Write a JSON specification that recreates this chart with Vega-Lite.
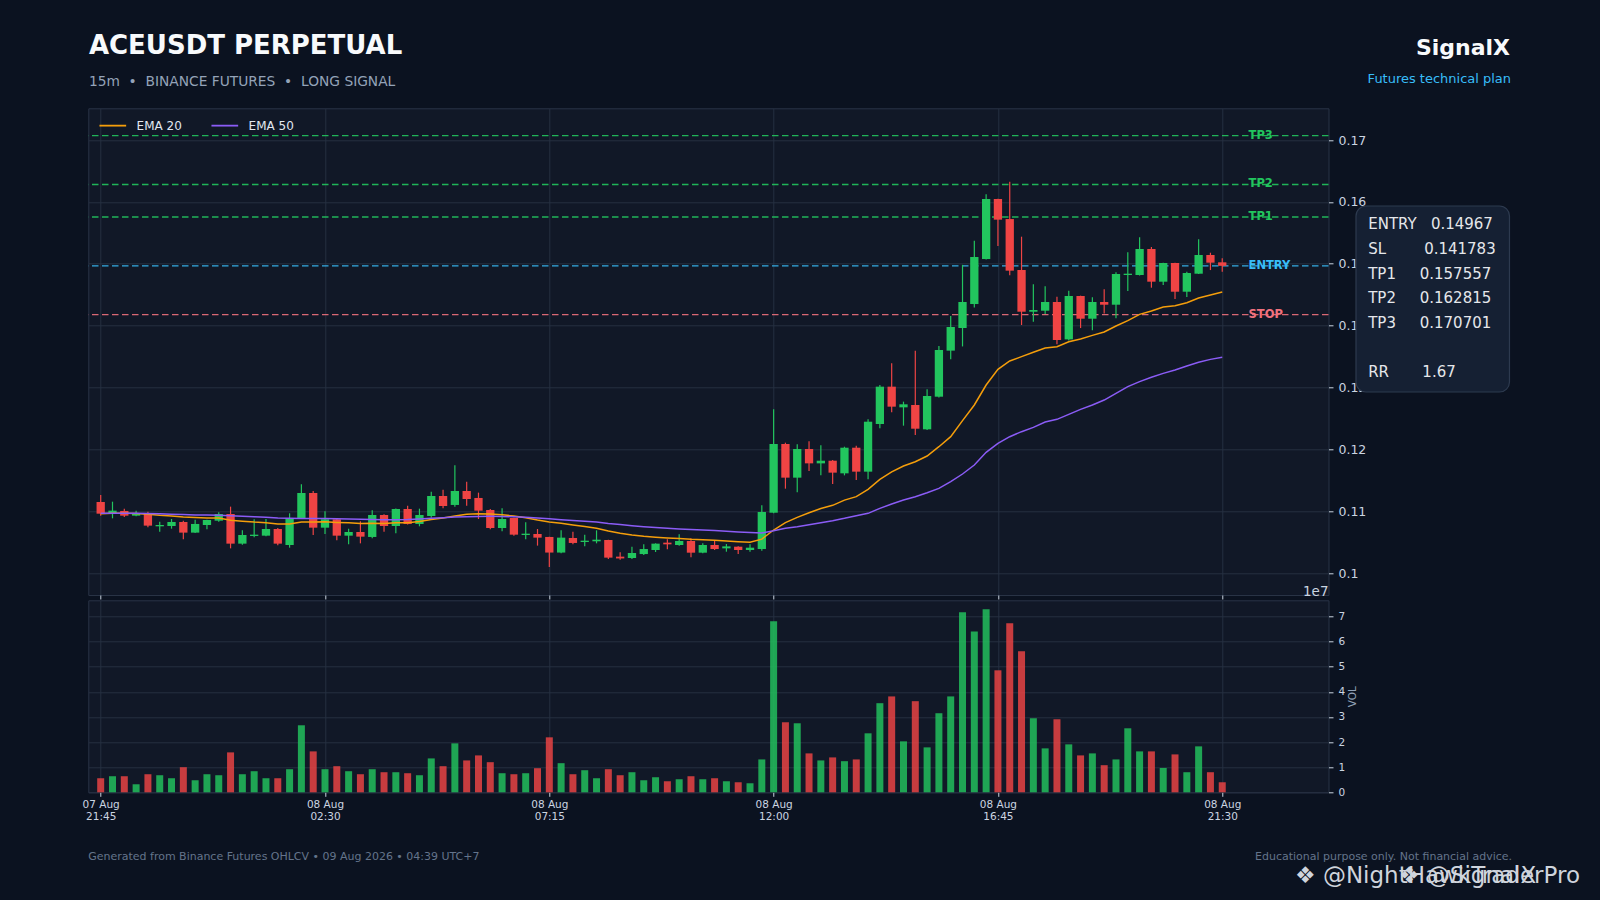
{
 "$schema": "https://vega.github.io/schema/vega-lite/v6.json",
 "autosize": {"type": "none"},
 "padding": {"left": 88.3, "top": 108.3, "right": 1511.7, "bottom": 791.7},
 "background": "#0b1220",
 "bounds": "flush",
 "spacing": 5,
 "resolve": {"scale": {"color": "independent"}, "legend": {"color": "independent"}},
 "config": {
  "font": "DejaVu Sans",
  "view": {"fill": "#111827", "stroke": "#2a3446", "strokeWidth": 1},
  "scale": {"continuousPadding": 0},
  "axis": {"domain": false, "grid": true, "gridColor": "#253041", "gridWidth": 1, "tickColor": "#cbd5e1", "tickSize": 4, "tickWidth": 1, "labelColor": "#cbd5e1", "labelFont": "DejaVu Sans", "labelFontSize": 10.5, "titleFont": "DejaVu Sans", "labelOverlap": false}
 },
 "datasets": {
  "levels": [
   {"name": "TP3", "price": 0.170701},
   {"name": "TP2", "price": 0.162815},
   {"name": "TP1", "price": 0.157557},
   {"name": "ENTRY", "price": 0.14967},
   {"name": "STOP", "price": 0.141783}
  ],
  "candles": [
   {"t":"2026-08-07T21:45:00Z","o":0.11152,"h":0.11265,"l":0.10931,"c":0.10963,"v":5600000,"e20":0.10963,"e50":0.10970},
   {"t":"2026-08-07T22:00:00Z","o":0.10969,"h":0.11157,"l":0.10888,"c":0.11012,"v":6400000,"e20":0.10969,"e50":0.10972},
   {"t":"2026-08-07T22:15:00Z","o":0.11007,"h":0.11044,"l":0.10910,"c":0.10931,"v":6400000,"e20":0.10969,"e50":0.10972},
   {"t":"2026-08-07T22:30:00Z","o":0.10931,"h":0.11012,"l":0.10920,"c":0.10964,"v":3200000,"e20":0.10965,"e50":0.10971},
   {"t":"2026-08-07T22:45:00Z","o":0.10969,"h":0.10996,"l":0.10743,"c":0.10770,"v":7200000,"e20":0.10955,"e50":0.10966},
   {"t":"2026-08-07T23:00:00Z","o":0.10759,"h":0.10834,"l":0.10673,"c":0.10780,"v":6800000,"e20":0.10938,"e50":0.10961},
   {"t":"2026-08-07T23:15:00Z","o":0.10764,"h":0.10877,"l":0.10721,"c":0.10829,"v":5600000,"e20":0.10927,"e50":0.10955},
   {"t":"2026-08-07T23:30:00Z","o":0.10829,"h":0.10850,"l":0.10549,"c":0.10657,"v":10000000,"e20":0.10910,"e50":0.10948},
   {"t":"2026-08-07T23:45:00Z","o":0.10657,"h":0.10867,"l":0.10650,"c":0.10797,"v":4800000,"e20":0.10900,"e50":0.10943},
   {"t":"2026-08-08T00:00:00Z","o":0.10780,"h":0.10866,"l":0.10710,"c":0.10861,"v":7200000,"e20":0.10893,"e50":0.10940},
   {"t":"2026-08-08T00:15:00Z","o":0.10850,"h":0.10985,"l":0.10834,"c":0.10958,"v":6800000,"e20":0.10895,"e50":0.10938},
   {"t":"2026-08-08T00:30:00Z","o":0.10958,"h":0.11077,"l":0.10403,"c":0.10479,"v":15900000,"e20":0.10858,"e50":0.10928},
   {"t":"2026-08-08T00:45:00Z","o":0.10479,"h":0.10694,"l":0.10463,"c":0.10619,"v":7200000,"e20":0.10842,"e50":0.10920},
   {"t":"2026-08-08T01:00:00Z","o":0.10603,"h":0.10872,"l":0.10581,"c":0.10624,"v":8400000,"e20":0.10827,"e50":0.10912},
   {"t":"2026-08-08T01:15:00Z","o":0.10608,"h":0.10877,"l":0.10597,"c":0.10716,"v":5600000,"e20":0.10817,"e50":0.10905},
   {"t":"2026-08-08T01:30:00Z","o":0.10716,"h":0.10732,"l":0.10452,"c":0.10479,"v":5600000,"e20":0.10795,"e50":0.10895},
   {"t":"2026-08-08T01:45:00Z","o":0.10457,"h":0.10969,"l":0.10414,"c":0.10888,"v":9200000,"e20":0.10797,"e50":0.10891},
   {"t":"2026-08-08T02:00:00Z","o":0.10883,"h":0.11437,"l":0.10883,"c":0.11297,"v":26700000,"e20":0.10829,"e50":0.10886},
   {"t":"2026-08-08T02:15:00Z","o":0.11297,"h":0.11330,"l":0.10619,"c":0.10737,"v":16300000,"e20":0.10830,"e50":0.10884},
   {"t":"2026-08-08T02:30:00Z","o":0.10737,"h":0.11001,"l":0.10635,"c":0.10872,"v":9200000,"e20":0.10832,"e50":0.10886},
   {"t":"2026-08-08T02:45:00Z","o":0.10872,"h":0.10888,"l":0.10533,"c":0.10608,"v":10400000,"e20":0.10822,"e50":0.10882},
   {"t":"2026-08-08T03:00:00Z","o":0.10608,"h":0.10721,"l":0.10468,"c":0.10667,"v":8400000,"e20":0.10816,"e50":0.10877},
   {"t":"2026-08-08T03:15:00Z","o":0.10667,"h":0.10840,"l":0.10484,"c":0.10592,"v":7200000,"e20":0.10806,"e50":0.10872},
   {"t":"2026-08-08T03:30:00Z","o":0.10587,"h":0.11017,"l":0.10565,"c":0.10942,"v":9200000,"e20":0.10808,"e50":0.10868},
   {"t":"2026-08-08T03:45:00Z","o":0.10942,"h":0.10953,"l":0.10673,"c":0.10764,"v":8000000,"e20":0.10803,"e50":0.10866},
   {"t":"2026-08-08T04:00:00Z","o":0.10764,"h":0.11045,"l":0.10646,"c":0.11039,"v":8000000,"e20":0.10818,"e50":0.10867},
   {"t":"2026-08-08T04:15:00Z","o":0.11039,"h":0.11093,"l":0.10790,"c":0.10797,"v":7600000,"e20":0.10818,"e50":0.10868},
   {"t":"2026-08-08T04:30:00Z","o":0.10797,"h":0.11044,"l":0.10759,"c":0.10942,"v":6800000,"e20":0.10838,"e50":0.10876},
   {"t":"2026-08-08T04:45:00Z","o":0.10926,"h":0.11319,"l":0.10899,"c":0.11249,"v":13500000,"e20":0.10870,"e50":0.10888},
   {"t":"2026-08-08T05:00:00Z","o":0.11249,"h":0.11351,"l":0.11050,"c":0.11087,"v":10400000,"e20":0.10892,"e50":0.10898},
   {"t":"2026-08-08T05:15:00Z","o":0.11104,"h":0.11744,"l":0.11077,"c":0.11330,"v":19500000,"e20":0.10926,"e50":0.10908},
   {"t":"2026-08-08T05:30:00Z","o":0.11330,"h":0.11480,"l":0.11093,"c":0.11200,"v":12700000,"e20":0.10952,"e50":0.10915},
   {"t":"2026-08-08T05:45:00Z","o":0.11217,"h":0.11303,"l":0.10877,"c":0.11012,"v":14700000,"e20":0.10962,"e50":0.10919},
   {"t":"2026-08-08T06:00:00Z","o":0.11023,"h":0.11039,"l":0.10710,"c":0.10732,"v":12000000,"e20":0.10956,"e50":0.10920},
   {"t":"2026-08-08T06:15:00Z","o":0.10732,"h":0.11050,"l":0.10678,"c":0.10877,"v":7600000,"e20":0.10946,"e50":0.10918},
   {"t":"2026-08-08T06:30:00Z","o":0.10893,"h":0.10899,"l":0.10608,"c":0.10624,"v":7200000,"e20":0.10925,"e50":0.10914},
   {"t":"2026-08-08T06:45:00Z","o":0.10619,"h":0.10823,"l":0.10549,"c":0.10640,"v":7600000,"e20":0.10898,"e50":0.10905},
   {"t":"2026-08-08T07:00:00Z","o":0.10635,"h":0.10716,"l":0.10447,"c":0.10576,"v":9600000,"e20":0.10860,"e50":0.10893},
   {"t":"2026-08-08T07:15:00Z","o":0.10587,"h":0.10592,"l":0.10100,"c":0.10335,"v":21900000,"e20":0.10829,"e50":0.10880},
   {"t":"2026-08-08T07:30:00Z","o":0.10335,"h":0.10694,"l":0.10323,"c":0.10576,"v":11600000,"e20":0.10807,"e50":0.10867},
   {"t":"2026-08-08T07:45:00Z","o":0.10570,"h":0.10673,"l":0.10468,"c":0.10490,"v":7200000,"e20":0.10780,"e50":0.10852},
   {"t":"2026-08-08T08:00:00Z","o":0.10506,"h":0.10624,"l":0.10436,"c":0.10527,"v":8800000,"e20":0.10755,"e50":0.10840},
   {"t":"2026-08-08T08:15:00Z","o":0.10517,"h":0.10694,"l":0.10484,"c":0.10543,"v":5600000,"e20":0.10728,"e50":0.10828},
   {"t":"2026-08-08T08:30:00Z","o":0.10538,"h":0.10543,"l":0.10231,"c":0.10253,"v":9200000,"e20":0.10685,"e50":0.10805},
   {"t":"2026-08-08T08:45:00Z","o":0.10269,"h":0.10339,"l":0.10220,"c":0.10240,"v":6800000,"e20":0.10648,"e50":0.10787},
   {"t":"2026-08-08T09:00:00Z","o":0.10247,"h":0.10430,"l":0.10231,"c":0.10328,"v":8000000,"e20":0.10620,"e50":0.10770},
   {"t":"2026-08-08T09:15:00Z","o":0.10311,"h":0.10468,"l":0.10296,"c":0.10392,"v":4800000,"e20":0.10598,"e50":0.10752},
   {"t":"2026-08-08T09:30:00Z","o":0.10376,"h":0.10484,"l":0.10344,"c":0.10479,"v":6000000,"e20":0.10583,"e50":0.10738},
   {"t":"2026-08-08T09:45:00Z","o":0.10495,"h":0.10549,"l":0.10387,"c":0.10468,"v":4400000,"e20":0.10572,"e50":0.10727},
   {"t":"2026-08-08T10:00:00Z","o":0.10457,"h":0.10629,"l":0.10446,"c":0.10522,"v":5200000,"e20":0.10562,"e50":0.10715},
   {"t":"2026-08-08T10:15:00Z","o":0.10522,"h":0.10565,"l":0.10258,"c":0.10333,"v":6400000,"e20":0.10549,"e50":0.10706},
   {"t":"2026-08-08T10:30:00Z","o":0.10333,"h":0.10484,"l":0.10322,"c":0.10457,"v":5200000,"e20":0.10542,"e50":0.10698},
   {"t":"2026-08-08T10:45:00Z","o":0.10457,"h":0.10538,"l":0.10376,"c":0.10392,"v":5600000,"e20":0.10532,"e50":0.10690},
   {"t":"2026-08-08T11:00:00Z","o":0.10403,"h":0.10473,"l":0.10349,"c":0.10435,"v":4400000,"e20":0.10522,"e50":0.10680},
   {"t":"2026-08-08T11:15:00Z","o":0.10430,"h":0.10435,"l":0.10311,"c":0.10376,"v":4000000,"e20":0.10511,"e50":0.10668},
   {"t":"2026-08-08T11:30:00Z","o":0.10376,"h":0.10468,"l":0.10349,"c":0.10414,"v":3600000,"e20":0.10500,"e50":0.10658},
   {"t":"2026-08-08T11:45:00Z","o":0.10392,"h":0.11098,"l":0.10365,"c":0.10990,"v":13100000,"e20":0.10552,"e50":0.10652},
   {"t":"2026-08-08T12:00:00Z","o":0.10979,"h":0.12649,"l":0.10970,"c":0.12089,"v":68100000,"e20":0.10699,"e50":0.10686},
   {"t":"2026-08-08T12:15:00Z","o":0.12089,"h":0.12110,"l":0.11367,"c":0.11545,"v":27900000,"e20":0.10818,"e50":0.10726},
   {"t":"2026-08-08T12:30:00Z","o":0.11545,"h":0.12083,"l":0.11308,"c":0.12008,"v":27500000,"e20":0.10904,"e50":0.10753},
   {"t":"2026-08-08T12:45:00Z","o":0.12008,"h":0.12132,"l":0.11653,"c":0.11776,"v":15500000,"e20":0.10979,"e50":0.10786},
   {"t":"2026-08-08T13:00:00Z","o":0.11776,"h":0.12067,"l":0.11582,"c":0.11819,"v":12700000,"e20":0.11047,"e50":0.10818},
   {"t":"2026-08-08T13:15:00Z","o":0.11819,"h":0.11830,"l":0.11442,"c":0.11626,"v":13900000,"e20":0.11098,"e50":0.10850},
   {"t":"2026-08-08T13:30:00Z","o":0.11615,"h":0.12045,"l":0.11582,"c":0.12029,"v":12400000,"e20":0.11182,"e50":0.10888},
   {"t":"2026-08-08T13:45:00Z","o":0.12029,"h":0.12062,"l":0.11507,"c":0.11642,"v":13100000,"e20":0.11238,"e50":0.10931},
   {"t":"2026-08-08T14:00:00Z","o":0.11642,"h":0.12487,"l":0.11518,"c":0.12449,"v":23500000,"e20":0.11356,"e50":0.10969},
   {"t":"2026-08-08T14:15:00Z","o":0.12412,"h":0.13042,"l":0.12342,"c":0.13015,"v":35500000,"e20":0.11518,"e50":0.11049},
   {"t":"2026-08-08T14:30:00Z","o":0.13015,"h":0.13392,"l":0.12600,"c":0.12692,"v":38200000,"e20":0.11640,"e50":0.11119},
   {"t":"2026-08-08T14:45:00Z","o":0.12681,"h":0.12773,"l":0.12385,"c":0.12730,"v":20300000,"e20":0.11733,"e50":0.11184},
   {"t":"2026-08-08T15:00:00Z","o":0.12719,"h":0.13597,"l":0.12234,"c":0.12336,"v":36300000,"e20":0.11803,"e50":0.11238},
   {"t":"2026-08-08T15:15:00Z","o":0.12326,"h":0.12972,"l":0.12315,"c":0.12864,"v":17900000,"e20":0.11895,"e50":0.11302},
   {"t":"2026-08-08T15:30:00Z","o":0.12853,"h":0.13672,"l":0.12840,"c":0.13607,"v":31500000,"e20":0.12045,"e50":0.11372},
   {"t":"2026-08-08T15:45:00Z","o":0.13597,"h":0.14157,"l":0.13456,"c":0.13979,"v":38200000,"e20":0.12207,"e50":0.11480},
   {"t":"2026-08-08T16:00:00Z","o":0.13963,"h":0.14983,"l":0.13665,"c":0.14383,"v":71700000,"e20":0.12466,"e50":0.11604},
   {"t":"2026-08-08T16:15:00Z","o":0.14350,"h":0.15374,"l":0.14296,"c":0.15110,"v":64100000,"e20":0.12719,"e50":0.11749},
   {"t":"2026-08-08T16:30:00Z","o":0.15077,"h":0.16122,"l":0.15070,"c":0.16047,"v":72900000,"e20":0.13042,"e50":0.11954},
   {"t":"2026-08-08T16:45:00Z","o":0.16047,"h":0.16050,"l":0.15287,"c":0.15713,"v":48600000,"e20":0.13295,"e50":0.12099},
   {"t":"2026-08-08T17:00:00Z","o":0.15723,"h":0.16327,"l":0.14813,"c":0.14889,"v":67300000,"e20":0.13430,"e50":0.12207},
   {"t":"2026-08-08T17:15:00Z","o":0.14900,"h":0.15438,"l":0.14011,"c":0.14226,"v":56200000,"e20":0.13500,"e50":0.12288},
   {"t":"2026-08-08T17:30:00Z","o":0.14226,"h":0.14668,"l":0.14065,"c":0.14253,"v":29500000,"e20":0.13570,"e50":0.12358},
   {"t":"2026-08-08T17:45:00Z","o":0.14242,"h":0.14636,"l":0.14189,"c":0.14383,"v":17500000,"e20":0.13640,"e50":0.12444},
   {"t":"2026-08-08T18:00:00Z","o":0.14383,"h":0.14469,"l":0.13699,"c":0.13769,"v":29100000,"e20":0.13661,"e50":0.12487},
   {"t":"2026-08-08T18:15:00Z","o":0.13779,"h":0.14566,"l":0.13760,"c":0.14480,"v":19100000,"e20":0.13740,"e50":0.12568},
   {"t":"2026-08-08T18:30:00Z","o":0.14480,"h":0.14485,"l":0.13962,"c":0.14113,"v":14700000,"e20":0.13785,"e50":0.12649},
   {"t":"2026-08-08T18:45:00Z","o":0.14113,"h":0.14458,"l":0.13925,"c":0.14383,"v":15500000,"e20":0.13844,"e50":0.12719},
   {"t":"2026-08-08T19:00:00Z","o":0.14383,"h":0.14587,"l":0.14199,"c":0.14339,"v":10800000,"e20":0.13898,"e50":0.12799},
   {"t":"2026-08-08T19:15:00Z","o":0.14339,"h":0.14862,"l":0.14119,"c":0.14835,"v":13100000,"e20":0.13995,"e50":0.12907},
   {"t":"2026-08-08T19:30:00Z","o":0.14819,"h":0.15185,"l":0.14560,"c":0.14840,"v":25500000,"e20":0.14081,"e50":0.13015},
   {"t":"2026-08-08T19:45:00Z","o":0.14819,"h":0.15427,"l":0.14810,"c":0.15239,"v":16300000,"e20":0.14183,"e50":0.13096},
   {"t":"2026-08-08T20:00:00Z","o":0.15239,"h":0.15271,"l":0.14614,"c":0.14711,"v":16300000,"e20":0.14237,"e50":0.13166},
   {"t":"2026-08-08T20:15:00Z","o":0.14711,"h":0.15018,"l":0.14657,"c":0.15013,"v":9700000,"e20":0.14302,"e50":0.13230},
   {"t":"2026-08-08T20:30:00Z","o":0.15013,"h":0.15018,"l":0.14431,"c":0.14549,"v":15100000,"e20":0.14323,"e50":0.13284},
   {"t":"2026-08-08T20:45:00Z","o":0.14549,"h":0.14873,"l":0.14463,"c":0.14851,"v":8000000,"e20":0.14372,"e50":0.13349},
   {"t":"2026-08-08T21:00:00Z","o":0.14840,"h":0.15395,"l":0.14835,"c":0.15142,"v":18300000,"e20":0.14447,"e50":0.13408},
   {"t":"2026-08-08T21:15:00Z","o":0.15142,"h":0.15179,"l":0.14899,"c":0.15018,"v":8000000,"e20":0.14496,"e50":0.13456},
   {"t":"2026-08-08T21:30:00Z","o":0.15024,"h":0.15089,"l":0.14872,"c":0.14967,"v":4000000,"e20":0.14545,"e50":0.13490}
  ]
 },
 "vconcat": [
  {
   "width": 1240.2,
   "height": 486.7,
   "layer": [
    {
     "data": {"name": "levels"},
     "mark": {"type": "rule", "strokeDash": [6.5, 3.5], "strokeWidth": 1.3, "opacity": 0.9},
     "encoding": {
      "y": {"field": "price", "type": "quantitative", "title": null, "scale": {"domain": [0.096494, 0.175121], "nice": false, "zero": false}},
      "color": {"condition": [{"test": "datum.name === 'ENTRY'", "value": "#38bdf8"}, {"test": "datum.name === 'STOP'", "value": "#f0717d"}], "value": "#22c55e"}
     }
    },
    {
     "data": {"name": "candles"},
     "mark": {"type": "rule", "strokeWidth": 1.2},
     "encoding": {
      "x": {"field": "t", "type": "temporal", "title": null,
        "scale": {"type": "utc", "nice": false, "padding": 0, "domain": [{"year": 2026, "month": 8, "date": 7, "hours": 21, "minutes": 29, "seconds": 15, "utc": true}, {"year": 2026, "month": 8, "date": 8, "hours": 23, "minutes": 45, "utc": true}]},
        "axis": {"values": [
          {"year": 2026, "month": 8, "date": 7, "hours": 21, "minutes": 45, "utc": true},
          {"year": 2026, "month": 8, "date": 8, "hours": 2, "minutes": 30, "utc": true},
          {"year": 2026, "month": 8, "date": 8, "hours": 7, "minutes": 15, "utc": true},
          {"year": 2026, "month": 8, "date": 8, "hours": 12, "minutes": 0, "utc": true},
          {"year": 2026, "month": 8, "date": 8, "hours": 16, "minutes": 45, "utc": true},
          {"year": 2026, "month": 8, "date": 8, "hours": 21, "minutes": 30, "utc": true}], "tickCount": 20, "labels": false, "ticks": true, "grid": true}},
      "y": {"field": "l", "type": "quantitative", "title": null,
        "scale": {"domain": [0.096494, 0.175121], "nice": false, "zero": false},
        "axis": {"orient": "right", "values": [0.1, 0.11, 0.12, 0.13, 0.14, 0.15, 0.16, 0.17], "tickCount": 20, "format": ".2~f", "labelFontSize": 12.5, "labelPadding": 5, "tickSize": 4.5, "grid": true, "labelOverlap": false}},
      "y2": {"field": "h"},
      "color": {"condition": {"test": "datum.c >= datum.o", "value": "#22c55e"}, "value": "#ef4444"}
     }
    },
    {
     "data": {"name": "candles"},
     "mark": {"type": "bar", "size": 8.3},
     "encoding": {
      "x": {"field": "t", "type": "temporal", "title": null, "scale": {"type": "utc", "nice": false, "padding": 0, "domain": [{"year": 2026, "month": 8, "date": 7, "hours": 21, "minutes": 29, "seconds": 15, "utc": true}, {"year": 2026, "month": 8, "date": 8, "hours": 23, "minutes": 45, "utc": true}]}},
      "y": {"field": "o", "type": "quantitative", "title": null, "scale": {"domain": [0.096494, 0.175121], "nice": false, "zero": false}},
      "y2": {"field": "c"},
      "color": {"condition": {"test": "datum.c >= datum.o", "value": "#22c55e"}, "value": "#ef4444"}
     }
    },
    {
     "data": {"name": "candles"},
     "mark": {"type": "line", "strokeWidth": 1.5},
     "encoding": {
      "x": {"field": "t", "type": "temporal", "title": null, "scale": {"type": "utc", "nice": false, "padding": 0, "domain": [{"year": 2026, "month": 8, "date": 7, "hours": 21, "minutes": 29, "seconds": 15, "utc": true}, {"year": 2026, "month": 8, "date": 8, "hours": 23, "minutes": 45, "utc": true}]}},
      "y": {"field": "e20", "type": "quantitative", "title": null, "scale": {"domain": [0.096494, 0.175121], "nice": false, "zero": false}},
      "color": {"datum": "EMA 20", "scale": {"domain": ["EMA 20", "EMA 50"], "range": ["#f59e0b", "#8b5cf6"]},
        "legend": {"orient": "none", "legendX": 10, "legendY": 2.6, "direction": "horizontal", "title": null, "symbolType": "stroke", "symbolSize": 713, "symbolStrokeWidth": 1.8, "labelFontSize": 12, "labelColor": "#e2e8f0", "labelFont": "DejaVu Sans", "labelOffset": 9.3, "columnPadding": 25, "padding": 0}}
     }
    },
    {
     "data": {"name": "candles"},
     "mark": {"type": "line", "strokeWidth": 1.5},
     "encoding": {
      "x": {"field": "t", "type": "temporal", "title": null, "scale": {"type": "utc", "nice": false, "padding": 0, "domain": [{"year": 2026, "month": 8, "date": 7, "hours": 21, "minutes": 29, "seconds": 15, "utc": true}, {"year": 2026, "month": 8, "date": 8, "hours": 23, "minutes": 45, "utc": true}]}},
      "y": {"field": "e50", "type": "quantitative", "title": null, "scale": {"domain": [0.096494, 0.175121], "nice": false, "zero": false}},
      "color": {"datum": "EMA 50"}
     }
    },
    {
     "data": {"name": "levels"},
     "mark": {"type": "text", "align": "left", "baseline": "middle", "fontSize": 11.5, "fontWeight": "bold", "clip": false},
     "encoding": {
      "x": {"datum": {"year": 2026, "month": 8, "date": 8, "hours": 22, "minutes": 3, "seconds": 27, "utc": true}, "type": "temporal"},
      "y": {"field": "price", "type": "quantitative", "title": null},
      "text": {"field": "name"},
      "color": {"condition": [{"test": "datum.name === 'ENTRY'", "value": "#38bdf8"}, {"test": "datum.name === 'STOP'", "value": "#f0717d"}], "value": "#22c55e"}
     }
    },
    {
     "data": {"values": [{}]},
     "mark": {"type": "text", "text": "ACEUSDT PERPETUAL", "align": "left", "baseline": "alphabetic", "fontSize": 26, "fontWeight": "bold", "color": "#f8fafc", "clip": false},
     "encoding": {
      "x": {"datum": {"year": 2026, "month": 8, "date": 7, "hours": 21, "minutes": 30, "utc": true}, "type": "temporal"},
      "y": {"datum": 0.18389, "type": "quantitative"}
     }
    },
    {
     "data": {"values": [{}]},
     "mark": {"type": "text", "text": "15m\u00a0\u00a0•\u00a0\u00a0BINANCE FUTURES\u00a0\u00a0•\u00a0\u00a0LONG SIGNAL", "align": "left", "baseline": "alphabetic", "fontSize": 13.8, "color": "#94a3b8", "clip": false},
     "encoding": {
      "x": {"datum": {"year": 2026, "month": 8, "date": 7, "hours": 21, "minutes": 30, "utc": true}, "type": "temporal"},
      "y": {"datum": 0.17872, "type": "quantitative"}
     }
    },
    {
     "data": {"values": [{}]},
     "mark": {"type": "text", "text": "SignalX", "align": "right", "baseline": "alphabetic", "fontSize": 22, "fontWeight": "bold", "color": "#f8fafc", "clip": false},
     "encoding": {
      "x": {"datum": {"year": 2026, "month": 8, "date": 9, "hours": 3, "minutes": 35, "seconds": 39, "utc": true}, "type": "temporal"},
      "y": {"datum": 0.18371, "type": "quantitative"}
     }
    },
    {
     "data": {"values": [{}]},
     "mark": {"type": "text", "text": "Futures technical plan", "align": "right", "baseline": "alphabetic", "fontSize": 13, "color": "#38bdf8", "clip": false},
     "encoding": {
      "x": {"datum": {"year": 2026, "month": 8, "date": 9, "hours": 3, "minutes": 36, "seconds": 55, "utc": true}, "type": "temporal"},
      "y": {"datum": 0.17913, "type": "quantitative"}
     }
    },
    {
     "data": {"values": [{}]},
     "mark": {"type": "rect", "fill": "#152033", "stroke": "#2d3a4f", "strokeWidth": 1.2, "cornerRadius": 10, "clip": false},
     "encoding": {
      "x": {"datum": {"year": 2026, "month": 8, "date": 9, "hours": 0, "minutes": 19, "seconds": 57, "utc": true}, "type": "temporal"},
      "x2": {"datum": {"year": 2026, "month": 8, "date": 9, "hours": 3, "minutes": 34, "seconds": 57, "utc": true}},
      "y": {"datum": 0.15934, "type": "quantitative"},
      "y2": {"datum": 0.12929}
     }
    },
    {
     "data": {"values": [{}]},
     "mark": {"type": "text", "text": ["ENTRY\u00a0\u00a0\u00a00.14967", "SL\u00a0\u00a0\u00a0\u00a0\u00a0\u00a0\u00a0\u00a00.141783", "TP1\u00a0\u00a0\u00a0\u00a0\u00a00.157557", "TP2\u00a0\u00a0\u00a0\u00a0\u00a00.162815", "TP3\u00a0\u00a0\u00a0\u00a0\u00a00.170701"], "lineHeight": 24.67, "align": "left", "baseline": "middle", "fontSize": 15, "color": "#e5e7eb", "clip": false},
     "encoding": {
      "x": {"datum": {"year": 2026, "month": 8, "date": 9, "hours": 0, "minutes": 35, "seconds": 27, "utc": true}, "type": "temporal"},
      "y": {"datum": 0.156383, "type": "quantitative"}
     }
    },
    {
     "data": {"values": [{}]},
     "mark": {"type": "text", "text": "RR\u00a0\u00a0\u00a0\u00a0\u00a0\u00a0\u00a01.67", "align": "left", "baseline": "middle", "fontSize": 15, "color": "#e5e7eb", "clip": false},
     "encoding": {
      "x": {"datum": {"year": 2026, "month": 8, "date": 9, "hours": 0, "minutes": 35, "seconds": 27, "utc": true}, "type": "temporal"},
      "y": {"datum": 0.132476, "type": "quantitative"}
     }
    }
   ]
  },
  {
   "width": 1240.2,
   "height": 192,
   "layer": [
    {
     "data": {"name": "candles"},
     "mark": {"type": "bar", "size": 7, "opacity": 0.82},
     "encoding": {
      "x": {"field": "t", "type": "temporal", "title": null,
        "scale": {"type": "utc", "nice": false, "padding": 0, "domain": [{"year": 2026, "month": 8, "date": 7, "hours": 21, "minutes": 29, "seconds": 15, "utc": true}, {"year": 2026, "month": 8, "date": 8, "hours": 23, "minutes": 45, "utc": true}]},
        "axis": {"values": [
          {"year": 2026, "month": 8, "date": 7, "hours": 21, "minutes": 45, "utc": true},
          {"year": 2026, "month": 8, "date": 8, "hours": 2, "minutes": 30, "utc": true},
          {"year": 2026, "month": 8, "date": 8, "hours": 7, "minutes": 15, "utc": true},
          {"year": 2026, "month": 8, "date": 8, "hours": 12, "minutes": 0, "utc": true},
          {"year": 2026, "month": 8, "date": 8, "hours": 16, "minutes": 45, "utc": true},
          {"year": 2026, "month": 8, "date": 8, "hours": 21, "minutes": 30, "utc": true}],
          "tickCount": 20,
          "labelExpr": "[utcFormat(datum.value, '%d %b'), utcFormat(datum.value, '%H:%M')]",
          "labelFontSize": 10.5, "labelLineHeight": 11.5, "labelPadding": 3.5, "labelAlign": "center", "labelOverlap": false, "grid": true}},
      "y": {"field": "v", "type": "quantitative", "title": "VOL",
        "scale": {"domain": [0, 76490000], "nice": false, "zero": true},
        "axis": {"orient": "right", "values": [0, 10000000, 20000000, 30000000, 40000000, 50000000, 60000000, 70000000], "tickCount": 20, "labelExpr": "format(datum.value / 10000000, 'd')", "labelOverlap": false, "labelFontSize": 10.5, "labelPadding": 5, "tickSize": 4.5, "titleFontSize": 10.5, "titleColor": "#94a3b8", "titleFontWeight": "normal", "titleAngle": 270, "titleBaseline": "top", "titlePadding": 3, "grid": true}},
      "color": {"condition": {"test": "datum.c >= datum.o", "value": "#22c55e"}, "value": "#ef4444"}
     }
    },
    {
     "data": {"values": [{}]},
     "mark": {"type": "text", "text": "1e7", "align": "right", "baseline": "alphabetic", "fontSize": 13.5, "color": "#cbd5e1", "clip": false},
     "encoding": {
      "x": {"datum": {"year": 2026, "month": 8, "date": 8, "hours": 23, "minutes": 45, "utc": true}, "type": "temporal"},
      "y": {"datum": 78090000, "type": "quantitative"}
     }
    },
    {
     "data": {"values": [{}]},
     "mark": {"type": "text", "text": "Generated from Binance Futures OHLCV • 09 Aug 2026 • 04:39 UTC+7", "align": "left", "baseline": "alphabetic", "fontSize": 11, "color": "#64748b", "clip": false},
     "encoding": {
      "x": {"datum": {"year": 2026, "month": 8, "date": 7, "hours": 21, "minutes": 29, "seconds": 15, "utc": true}, "type": "temporal"},
      "y": {"datum": -27090000, "type": "quantitative"}
     }
    },
    {
     "data": {"values": [{}]},
     "mark": {"type": "text", "text": "Educational purpose only. Not financial advice.", "align": "right", "baseline": "alphabetic", "fontSize": 11, "color": "#64748b", "clip": false},
     "encoding": {
      "x": {"datum": {"year": 2026, "month": 8, "date": 9, "hours": 3, "minutes": 38, "seconds": 9, "utc": true}, "type": "temporal"},
      "y": {"datum": -27090000, "type": "quantitative"}
     }
    },
    {
     "data": {"values": [{}]},
     "mark": {"type": "text", "text": "❖ @NightHawkTraderPro", "align": "left", "baseline": "alphabetic", "fontSize": 23, "color": "#cfd4dc", "clip": false},
     "encoding": {
      "x": {"datum": {"year": 2026, "month": 8, "date": 8, "hours": 23, "minutes": 2, "seconds": 27, "utc": true}, "type": "temporal"},
      "y": {"datum": -36140000, "type": "quantitative"}
     }
    },
    {
     "data": {"values": [{}]},
     "mark": {"type": "text", "text": "❖ @SignalX", "align": "left", "baseline": "alphabetic", "fontSize": 23, "color": "#cfd4dc", "clip": false},
     "encoding": {
      "x": {"datum": {"year": 2026, "month": 8, "date": 9, "hours": 1, "minutes": 14, "seconds": 33, "utc": true}, "type": "temporal"},
      "y": {"datum": -36140000, "type": "quantitative"}
     }
    }
   ]
  }
 ]
}
